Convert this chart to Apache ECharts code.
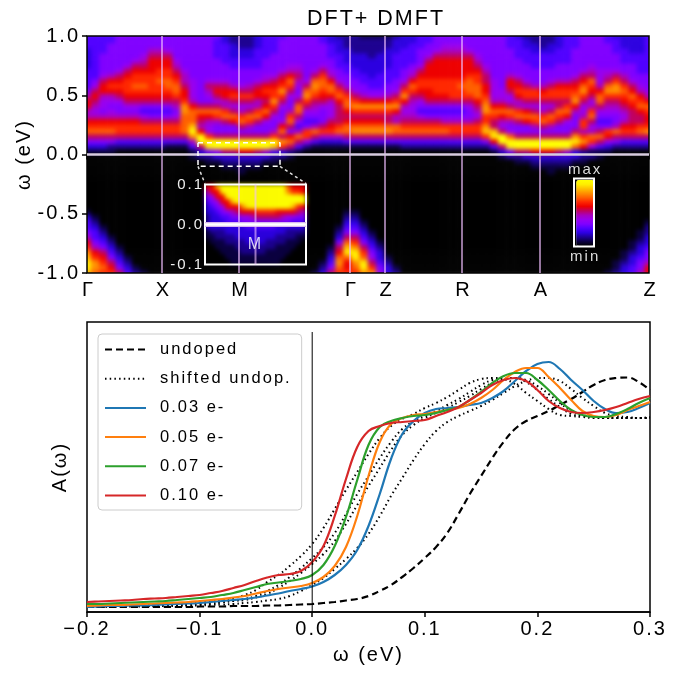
<!DOCTYPE html>
<html>
<head>
<meta charset="utf-8">
<title>DFT+ DMFT</title>
<script src="https://cdn.jsdelivr.net/npm/echarts@6/dist/echarts.min.js"></script>
<style>
html, body { margin: 0; padding: 0; background: #fff; }
#chart { width: 682px; height: 674px; }
/* the spectral maps sit alone on zlevel 0, soften their cells like imshow does */
#chart canvas[data-zr-dom-id="zr_0"] {
  filter: blur(2.2px);
  clip-path: inset(36px 33px 401px 87px);
}
</style>
</head>
<body>
<div id="chart"></div>
<script>
// spectral map, one string per k column, hex level per omega row (from 1.0 down to 0.0)
const heatAbove = [
  "444333344445799779ab8531", "444444444568987679ab8531", "444455556899766579ab8531", "4455555579a9765679ab8521",
  "5555555689a9865579aa8420", "555555689aaa986579aa8420", "55555689aaba986579aa8420", "55556789aaba985468aa8420",
  "55578999aaaa985458aa8420", "5557899aabaa985458aa8420", "5556899aabba985458aa8410", "555556789abba87568aa8410",
  "5555555677899accbbbb8410", "555555555666679bbbdfc741", "555555555555558b9879ff83", "555555555687658b9766afe5",
  "544445555689868ba7558ff6", "334444555689977ab8558ff8", "223334455579a868b9558ff8", "222334455568a867ab858ff9",
  "222334455578a868ba758ff9", "333444455689977ab8558ff8", "44444555679a989b96558ff7", "44445555689aaca86557afd4",
  "4555555689aca865569b8ca3", "555555679ba86557ab859b82", "55555567876568bb8647b841", "55555555568bca86545aa620",
  "555555568bcba876547b8410", "44555568abba9865558a7310", "3344455679bb9766689a7310", "23334445568ab98888ab7310",
  "222333445568abb989bb8410", "2222333445568aca89bc8410", "12223333445579ca89bc8410", "12222333344569ca89bc8410",
  "12223333444569ca89bc8410", "12233334445579ca88bc8410", "2333444445568ac977bb8410", "33344445568ac97678ab8420",
  "3344445679ba876678ab8420", "444555689aa9865468ab8420", "445568999aa9985458ab8420", "555689999aaa985458ab8420",
  "556789999aaa985457ab8420", "556789999aaaa85457aa8420", "556789999abaa85457aa8420", "55568999abbba86557aa8420",
  "55556789aabbb98768aa8420", "555555678899abccaacda520", "555555555666679ba88de941", "555555555556679b9768ff83",
  "444555557998668ba756bfe5", "34444555689a977ab8558ff8", "23344455568aa869b9558ff8", "22334445557aa868ba758ff9",
  "222344455579a867ab858ff9", "22334445568aa868ba758ff9", "33344455579aa88ba8558ff8", "44444455579aa8ab96558ff7",
  "44455555689abc975558ceb3", "5555555689bca8667aa7ac92", "555555678ba9867ab867ba61", "555555566679bb865458b841",
  "4455555678bca876545a9631", "344455568acca876557b8520", "3334445578aba987679a8420", "333344555689ba98889a8420",
  "3333444455679ab988ab8420", "44444444555679ba99ac8420"
];
// same columns, rows below the Fermi level (0.0 down to -1.0), missing rows are black
const heatBelow = [
  "000000000001344579acdeed", "00000000000012344579accb", "000000000000001234589aba", "00000000000000001234589a",
  "000000000000000000123458", "000000000000000000001234", "000000000000000000000012", "000000000000000000000001",
  "", "", "", "", "", "1", "2", "21", "31", "321", "321", "3211", "321", "321", "31", "21", "2", "1", "", "",
  "000000000000000000000001", "000000000000000000000123", "000000000000000000123458", "00000000000000123589bcba",
  "00000000000123458bdeb99a", "00000000000123458aceecba", "0000000000000123458abeec", "0000000000000001234568ac",
  "000000000000000001233456", "000000000000000000001233", "000000000000000000000012",
  "", "", "", "", "", "", "", "", "", "", "", "",
  "1", "2", "21", "31", "321", "321", "3211", "321", "321", "31", "21", "2", "1",
  "000000000000000000000001", "000000000000000000000112", "000000000000000000011233", "000000000000000001123344",
  "000000000000000112334557", "000000000000012233455799", "0000000000012233445789aa"
];
// zoom around M, one string per omega row from 0.1 to -0.1
const insetRows = [
  "99dfffffffffffffb999", "799effffffffffffcaa9", "5699effffffffffffffe", "45699dffffffffffffff",
  "3456999ceffffffffda9", "3345678999aaaa999987", "23344556678888876655", "23334445555555555444",
  "33333333444444333333", "12223333333333332222", "11222233333333222211", "01112222333322221110",
  "00111122222222111100", "00011112222211111000", "00001111111111110000", "00000111111111100000"
];
const heatColors = ["#000000", "#0a0040", "#1c0090", "#2c00e0", "#5000ff", "#8000ff", "#9800f0", "#a800c0",
  "#c00060", "#ee0000", "#ff2800", "#ff6000", "#ff9000", "#ffc000", "#ffee00", "#ffff00"];

// k path
const kTicks = [0, 75, 152, 263, 298, 375, 453, 562];
const kLabels = ["Γ", "X", "M", "Γ", "Z", "R", "A", "Z"];
const kLines = [75, 152, 263, 298, 375, 453];

// lower panel, A(w) in picture units, one value per energy
const energy = [-0.20, -0.19, -0.18, -0.17, -0.16, -0.15, -0.14, -0.13, -0.12, -0.11, -0.10, -0.09, -0.08, -0.07, -0.06, -0.05, -0.04,
  -0.03, -0.02, -0.01, 0.00, 0.01, 0.02, 0.03, 0.04, 0.05, 0.06, 0.07, 0.08, 0.09, 0.10, 0.11, 0.12, 0.13, 0.14, 0.15, 0.16, 0.17,
  0.18, 0.19, 0.20, 0.21, 0.22, 0.23, 0.24, 0.25, 0.26, 0.27, 0.28, 0.29, 0.30];
const undoped = [5, 5, 5, 5, 5, 5, 5, 5, 5, 5, 5.5, 5.5, 5.5, 6, 6, 6, 6.5, 6.5, 7, 7.5, 8, 9, 10, 11.5, 13, 16, 21, 27, 35, 44, 54, 65,
  79, 98, 118, 136, 154, 170, 183, 191, 196, 201, 207, 213, 220, 227, 232, 234, 234.5, 230, 222];
const shifted1 = [5.5, 6, 6, 6, 6.5, 6.5, 7, 7.5, 8, 8.5, 9.5, 10.5, 12, 14, 17, 22, 30, 37, 46, 56, 68, 84, 103, 122, 140, 158, 174, 186,
  193, 198, 204, 209, 215, 222, 229, 233, 234, 233, 228, 219, 211, 203, 197, 196, 195, 194, 194, 194, 194, 194, 195];
const shifted2 = [5.5, 5.5, 5.5, 6, 6, 6, 6.5, 6.5, 7, 7.5, 8, 9, 10, 11.5, 13, 16, 21, 27, 35, 44, 54, 65, 79, 98, 118, 136, 154, 170,
  183, 191, 196, 201, 207, 213, 220, 227, 232, 234, 234, 230, 222, 213, 205, 198, 196, 195, 194, 194, 194, 194, 194];
const shifted3 = [5.5, 5.5, 5.5, 5.5, 6, 6, 6, 6.5, 6.5, 7, 7.5, 8, 9.5, 11, 12, 14.5, 18, 24, 31, 39, 48, 58, 71, 88, 107, 126, 144, 162,
  177, 187, 194, 199, 204, 210, 216, 223, 229, 233, 234, 232, 226, 218, 209, 201, 197, 195, 194, 194, 194, 194, 194];
const shifted4 = [5, 5, 5.5, 5.5, 5.5, 5.5, 6, 6, 6, 6.5, 6.5, 7, 7.5, 8, 9, 10, 11.5, 13, 16, 21, 27, 34, 43, 53, 64, 78, 96, 116, 134,
  152, 168, 181, 190, 196, 201, 206, 212, 219, 226, 231, 234, 234, 231, 223, 214, 206, 199, 196, 195, 194, 194];
const dope003 = [5, 5.5, 6, 6, 6.5, 6.5, 7, 7.5, 8, 8.5, 9, 10, 11, 12, 13, 14.5, 16.5, 18.5, 21, 23, 25.5, 30, 37, 47, 62, 86, 118, 153,
  178, 191, 199, 203, 204, 205, 207, 209, 214, 221, 231, 241, 248, 250, 243, 232, 222, 211, 203, 199, 200, 204, 209];
const dope005 = [6, 6.5, 7, 7, 7.5, 8, 8.5, 9, 9.5, 10, 11, 12, 13, 14.5, 16, 18.5, 21, 23, 24.5, 26, 29, 35, 46, 65, 96, 136, 170, 188,
  194, 197, 198, 200, 202, 204, 208, 214, 222, 232, 240, 244, 244, 235, 224, 212, 201, 196, 195, 197, 202, 206, 210];
const dope007 = [8, 8, 8.5, 9, 9.5, 10, 10.5, 11, 12, 13, 14, 15, 17, 19, 22, 25, 28, 29.5, 31, 33, 37, 47, 66, 95, 132, 167, 185, 191,
  194, 196, 197, 199, 202, 205, 212, 220, 229, 236, 239, 239, 232, 222, 211, 202, 197, 195, 195, 198, 203, 209, 214];
const dope010 = [10, 10.5, 11, 11.5, 12, 13, 13.5, 14, 15, 16, 17, 19, 21, 24, 27, 31, 34.5, 37, 38, 41, 50, 66, 96, 133, 165, 181, 186,
  189, 190, 191, 192, 196, 200, 205, 212, 219, 227, 232, 234, 231, 222, 211, 204, 200, 199, 200, 202, 205, 209, 213, 216];

const seriesNames = ["undoped", "shifted undop.", "0.03 e-", "0.05 e-", "0.07 e-", "0.10 e-"];
const seriesColors = ["#1f77b4", "#ff7f0e", "#2ca02c", "#d62728"];

const FONT = '"Liberation Sans", Arial, sans-serif';
const TOP = 1;

function pairs(ys) {
  return energy.map(function (e, i) { return [e, ys[i]]; });
}

let heatData = [];
heatAbove.forEach(function (col, i) {
  const full = col + heatBelow[i];
  for (let r = 0; r < 48; r++) {
    heatData.push([i, r, r < full.length ? parseInt(full[r], 16) : 0]);
  }
});
let insetData = [];
insetRows.forEach(function (row, r) {
  for (let c = 0; c < row.length; c++) {
    insetData.push([c, r, parseInt(row[c], 16)]);
  }
});

const chart = echarts.init(document.getElementById("chart"), null, { renderer: "canvas" });
// matplotlib text in the picture runs wide
chart.getZr().painter.getLayer(TOP).ctx.letterSpacing = "2px";

function kLine(k) {
  return {
    type: "line", xAxisIndex: 0, yAxisIndex: 0, zlevel: TOP, z: 3, symbol: "none", silent: true,
    lineStyle: { color: "rgba(240,190,255,0.62)", width: 2 },
    data: [[k, -1], [k, 1]]
  };
}
function whiteLine(data, axis, style) {
  return {
    type: "line", xAxisIndex: axis, yAxisIndex: axis, zlevel: TOP, z: 4, symbol: "none", silent: true,
    lineStyle: style, data: data
  };
}
function spectrum(name, ys, color, width, dash) {
  return {
    type: "line", name: name, xAxisIndex: 5, yAxisIndex: 5, zlevel: TOP, symbol: "none", smooth: 0.4,
    lineStyle: { color: color, width: width, type: dash },
    itemStyle: { color: color },
    data: pairs(ys)
  };
}

const dotted = [1.5, 3.2];
const option = {
  animation: false,
  title: {
    text: "DFT+ DMFT", left: 371, top: 3, textAlign: "center", zlevel: TOP,
    textStyle: { fontFamily: FONT, fontSize: 21.5, fontWeight: "normal", color: "#000" }
  },
  visualMap: {
    type: "continuous", min: 0, max: 15, seriesIndex: [0, 1], show: true, calculable: false,
    left: 556, top: 147, itemWidth: 18, itemHeight: 66, text: ["max", "min"], textGap: 3, zlevel: TOP,
    textStyle: { color: "#ddd", fontFamily: FONT, fontSize: 15 },
    inRange: { color: heatColors }
  },
  legend: {
    left: 98, top: 334, orient: "vertical", zlevel: TOP,
    padding: [7, 38, 6, 6], itemGap: 12.2, itemWidth: 41, itemHeight: 16,
    backgroundColor: "#fff", borderColor: "#ccc", borderWidth: 1, borderRadius: 4,
    itemStyle: { opacity: 0 },
    textStyle: { fontFamily: FONT, fontSize: 16.5, color: "#000", padding: [0, 0, 0, 9] },
    selectedMode: false,
    data: seriesNames
  },
  grid: [
    { left: 87, top: 36, width: 562, height: 237, show: true, borderColor: "#000", borderWidth: 1.5, backgroundColor: "transparent", zlevel: TOP },
    { left: 83, top: 33.5, width: 570, height: 242, zlevel: 0 },
    { left: 205, top: 184.5, width: 101, height: 80, zlevel: 0 },
    { left: 205, top: 184.5, width: 101, height: 80, show: true, borderColor: "#fff", borderWidth: 2, zlevel: TOP, z: 6 },
    { left: 87, top: 322, width: 563, height: 290, zlevel: TOP },
    { left: 87, top: 322, width: 563, height: 290, show: true, borderColor: "#000", borderWidth: 1.5, zlevel: TOP }
  ],
  xAxis: [
    {
      type: "value", gridIndex: 0, min: 0, max: 562, zlevel: TOP,
      splitLine: { show: false },
      axisLine: { show: false },
      axisTick: { show: true, customValues: kTicks, length: 5, lineStyle: { color: "#000", width: 1.5 } },
      axisLabel: {
        customValues: kTicks, margin: 7, padding: [0, 0, 0, 3], fontFamily: FONT, fontSize: 20, color: "#000",
        formatter: function (v) { return kLabels[kTicks.indexOf(v)]; }
      }
    },
    { type: "category", gridIndex: 1, show: false, data: heatAbove.map(function (c, i) { return i; }), zlevel: 0 },
    { type: "category", gridIndex: 2, show: false, data: insetRows[0].split("").map(function (c, i) { return i; }), zlevel: 0 },
    { type: "value", gridIndex: 3, min: -1, max: 1, show: false, zlevel: TOP },
    { type: "value", gridIndex: 4, show: false, min: -0.2, max: 0.3, zlevel: TOP },
    {
      type: "value", gridIndex: 5, min: -0.2, max: 0.3, interval: 0.1, zlevel: TOP,
      splitLine: { show: false },
      name: "ω (eV)", nameLocation: "middle", nameGap: 33,
      nameTextStyle: { fontFamily: FONT, fontSize: 20, color: "#000" },
      axisLine: { onZero: false, lineStyle: { color: "#000", width: 1.5 } },
      axisTick: { length: 5, lineStyle: { color: "#000", width: 1.5 } },
      axisLabel: {
        margin: 7, fontFamily: FONT, fontSize: 20, color: "#000", showMinLabel: true, showMaxLabel: true,
        formatter: function (v) { return (v < 0 ? "−" : "") + Math.abs(v).toFixed(1); }
      }
    }
  ],
  yAxis: [
    {
      type: "value", gridIndex: 0, min: -1, max: 1, interval: 0.5, zlevel: TOP,
      splitLine: { show: false },
      name: "ω (eV)", nameLocation: "middle", nameGap: 51, nameRotate: 90,
      nameTextStyle: { fontFamily: FONT, fontSize: 20, color: "#000" },
      axisLine: { show: false },
      axisTick: { show: true, length: 5, lineStyle: { color: "#000", width: 1.5 } },
      axisLabel: {
        margin: 7, fontFamily: FONT, fontSize: 20, color: "#000",
        formatter: function (v) { return v.toFixed(1); }
      }
    },
    { type: "category", gridIndex: 1, show: false, inverse: true, data: heatData.slice(0, 48).map(function (d) { return d[1]; }), zlevel: 0 },
    { type: "category", gridIndex: 2, show: false, inverse: true, data: insetRows.map(function (c, i) { return i; }), zlevel: 0 },
    {
      type: "value", gridIndex: 3, min: -0.1, max: 0.1, interval: 0.1, zlevel: TOP, z: 7,
      splitLine: { show: false }, axisLine: { show: false }, axisTick: { show: false },
      axisLabel: {
        margin: 1, fontFamily: FONT, fontSize: 15, color: "#eee",
        formatter: function (v) { return v.toFixed(1); }
      }
    },
    { type: "value", gridIndex: 4, show: false, min: 0, max: 290, zlevel: TOP },
    {
      type: "value", gridIndex: 5, min: 0, max: 290, zlevel: TOP,
      splitLine: { show: false },
      name: "A(ω)", nameLocation: "middle", nameGap: 17, nameRotate: 90,
      nameTextStyle: { fontFamily: FONT, fontSize: 20, color: "#000" },
      axisLine: { show: false }, axisTick: { show: false }, axisLabel: { show: false }
    }
  ],
  series: [
    { type: "heatmap", xAxisIndex: 1, yAxisIndex: 1, zlevel: 0, z: 2, progressive: 0, silent: true, data: heatData },
    { type: "heatmap", xAxisIndex: 2, yAxisIndex: 2, zlevel: 0, z: 3, progressive: 0, silent: true, data: insetData },
    kLine(kLines[0]), kLine(kLines[1]), kLine(kLines[2]), kLine(kLines[3]), kLine(kLines[4]), kLine(kLines[5]),
    whiteLine([[0, 0], [562, 0]], 0, { color: "#d8cce0", width: 2.5 }),
    // zoom box and its leaders
    whiteLine([[111, 0.1], [193, 0.1], [193, -0.1], [111, -0.1], [111, 0.1]], 0, { color: "#fff", width: 1.5, type: [5, 4] }),
    whiteLine([[193, -0.1], [219, -0.245]], 0, { color: "#ddd", width: 1.5, type: [3, 3] }),
    whiteLine([[111, -0.1], [118, -0.245]], 0, { color: "#ddd", width: 1.5, type: [3, 3] }),
    // inset marks, on top of the inset map
    Object.assign(whiteLine([[-1, 0], [1, 0]], 3, { color: "#d8b8f0", width: 5 }), { z: 7 }),
    Object.assign(whiteLine([[-1, 0], [1, 0]], 3, { color: "#fff", width: 2.5 }), { z: 8 }),
    Object.assign(whiteLine([[0, -0.1], [0, 0.1]], 3, { color: "rgba(240,190,255,0.6)", width: 2 }), { z: 7 }),
    {
      type: "scatter", xAxisIndex: 3, yAxisIndex: 3, zlevel: TOP, z: 9, symbolSize: 0, silent: true,
      data: [[0, -0.05]],
      label: { show: true, position: "inside", formatter: "M", color: "#fff", fontFamily: FONT, fontSize: 16 }
    },
    spectrum(seriesNames[0], undoped, "#000", 2.2, [7, 4]),
    spectrum(seriesNames[1], shifted1, "#000", 2, dotted),
    spectrum(seriesNames[1], shifted2, "#000", 2, dotted),
    spectrum(seriesNames[1], shifted3, "#000", 2, dotted),
    spectrum(seriesNames[1], shifted4, "#000", 2, dotted),
    spectrum(seriesNames[2], dope003, seriesColors[0], 2.2, "solid"),
    spectrum(seriesNames[3], dope005, seriesColors[1], 2.2, "solid"),
    spectrum(seriesNames[4], dope007, seriesColors[2], 2.2, "solid"),
    spectrum(seriesNames[5], dope010, seriesColors[3], 2.2, "solid"),
    {
      type: "line", xAxisIndex: 5, yAxisIndex: 5, zlevel: TOP, symbol: "none", silent: true,
      lineStyle: { color: "#000", width: 1 },
      data: [[0, 0], [0, 280]]
    }
  ],
  graphic: [
    {
      type: "rect", zlevel: TOP, z: 20, silent: true,
      shape: { x: 574, y: 178.5, width: 20, height: 68 },
      style: { fill: "none", stroke: "#fff", lineWidth: 2 }
    }
  ]
};
chart.setOption(option);
</script>
</body>
</html>
